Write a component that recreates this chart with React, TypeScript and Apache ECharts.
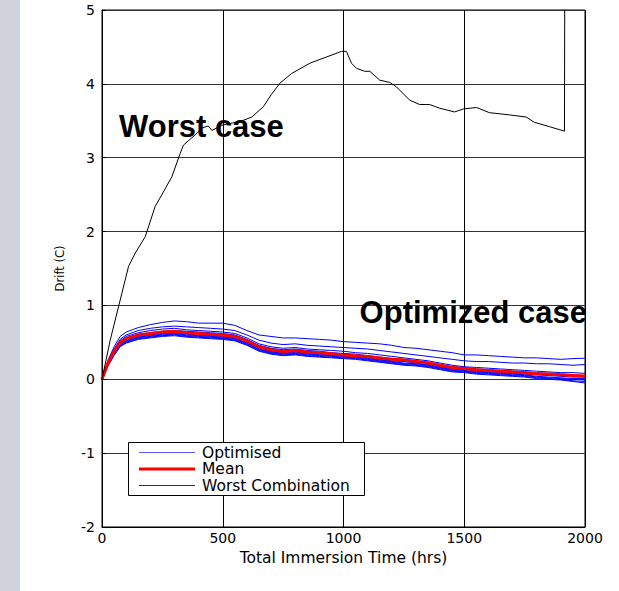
import React, { useEffect, useRef } from 'react';
import * as echarts from 'echarts';

// Time axis (hours) shared by the optimised runs and the mean
const TIME = [0, 25, 50, 75, 100, 150, 200, 250, 300, 350, 400, 450, 500, 550, 600, 650, 700, 750, 800, 850, 900, 950, 1000, 1050, 1100, 1150, 1200, 1250, 1300, 1350, 1400, 1450, 1500, 1550, 1600, 1650, 1700, 1750, 1800, 1850, 1900, 1950, 2000];

const MEAN = [0, 0.22, 0.38, 0.50, 0.55, 0.60, 0.62, 0.64, 0.65, 0.63, 0.62, 0.61, 0.60, 0.58, 0.52, 0.44, 0.40, 0.375, 0.39, 0.37, 0.36, 0.345, 0.33, 0.32, 0.31, 0.29, 0.27, 0.26, 0.24, 0.22, 0.19, 0.16, 0.145, 0.13, 0.12, 0.11, 0.10, 0.09, 0.075, 0.07, 0.06, 0.05, 0.045];

const OPT_1 = [0, 0.26, 0.44, 0.58, 0.64, 0.70, 0.74, 0.77, 0.79, 0.78, 0.76, 0.76, 0.76, 0.73, 0.66, 0.60, 0.58, 0.56, 0.56, 0.55, 0.54, 0.53, 0.51, 0.50, 0.49, 0.48, 0.46, 0.43, 0.42, 0.40, 0.38, 0.36, 0.33, 0.33, 0.32, 0.31, 0.30, 0.29, 0.29, 0.28, 0.27, 0.28, 0.285];
const OPT_2 = [0, 0.24, 0.41, 0.54, 0.60, 0.66, 0.69, 0.71, 0.72, 0.71, 0.70, 0.69, 0.68, 0.66, 0.60, 0.53, 0.49, 0.47, 0.48, 0.46, 0.45, 0.44, 0.43, 0.42, 0.41, 0.39, 0.37, 0.35, 0.33, 0.31, 0.29, 0.27, 0.25, 0.24, 0.24, 0.23, 0.22, 0.22, 0.21, 0.21, 0.20, 0.19, 0.20];
const OPT_3 = [0, 0.23, 0.40, 0.52, 0.58, 0.63, 0.66, 0.68, 0.69, 0.67, 0.66, 0.65, 0.64, 0.62, 0.56, 0.48, 0.44, 0.42, 0.43, 0.41, 0.40, 0.39, 0.38, 0.36, 0.35, 0.33, 0.31, 0.29, 0.27, 0.25, 0.22, 0.19, 0.17, 0.16, 0.15, 0.14, 0.13, 0.12, 0.11, 0.10, 0.09, 0.09, 0.08];
const OPT_4 = [0, 0.21, 0.36, 0.48, 0.53, 0.58, 0.60, 0.62, 0.63, 0.61, 0.60, 0.59, 0.58, 0.56, 0.50, 0.42, 0.38, 0.36, 0.37, 0.35, 0.34, 0.33, 0.32, 0.31, 0.29, 0.27, 0.25, 0.24, 0.22, 0.20, 0.17, 0.14, 0.13, 0.11, 0.10, 0.09, 0.08, 0.07, 0.06, 0.05, 0.04, 0.03, 0.03];
const OPT_5 = [0, 0.20, 0.35, 0.47, 0.52, 0.57, 0.59, 0.61, 0.62, 0.60, 0.59, 0.58, 0.57, 0.55, 0.49, 0.41, 0.37, 0.35, 0.36, 0.34, 0.33, 0.32, 0.31, 0.30, 0.28, 0.26, 0.24, 0.22, 0.21, 0.19, 0.16, 0.13, 0.12, 0.10, 0.09, 0.08, 0.07, 0.06, 0.04, 0.03, 0.02, 0.01, 0.01];
const OPT_6 = [0, 0.19, 0.34, 0.46, 0.51, 0.56, 0.58, 0.60, 0.61, 0.59, 0.58, 0.57, 0.56, 0.54, 0.48, 0.40, 0.36, 0.34, 0.35, 0.33, 0.32, 0.31, 0.30, 0.29, 0.27, 0.25, 0.23, 0.21, 0.20, 0.18, 0.15, 0.12, 0.11, 0.09, 0.08, 0.07, 0.06, 0.05, 0.03, 0.02, 0.01, 0.00, -0.01];
const OPT_7 = [0, 0.20, 0.34, 0.45, 0.50, 0.55, 0.57, 0.59, 0.60, 0.58, 0.57, 0.56, 0.55, 0.53, 0.47, 0.39, 0.35, 0.33, 0.34, 0.32, 0.31, 0.30, 0.29, 0.28, 0.26, 0.24, 0.22, 0.20, 0.19, 0.17, 0.14, 0.11, 0.10, 0.08, 0.07, 0.06, 0.05, 0.04, 0.02, 0.01, 0.00, -0.02, -0.03];
const OPT_8 = [0, 0.18, 0.32, 0.44, 0.49, 0.54, 0.56, 0.58, 0.59, 0.57, 0.56, 0.55, 0.54, 0.52, 0.46, 0.38, 0.34, 0.32, 0.33, 0.31, 0.30, 0.29, 0.28, 0.27, 0.25, 0.23, 0.21, 0.19, 0.18, 0.16, 0.13, 0.10, 0.09, 0.07, 0.06, 0.05, 0.04, 0.03, 0.01, 0.00, -0.01, -0.03, -0.05];
const OPT_9 = [0, 0.22, 0.39, 0.51, 0.56, 0.61, 0.63, 0.65, 0.66, 0.65, 0.64, 0.63, 0.62, 0.60, 0.54, 0.46, 0.42, 0.40, 0.41, 0.39, 0.38, 0.36, 0.35, 0.34, 0.32, 0.30, 0.28, 0.27, 0.25, 0.23, 0.20, 0.17, 0.16, 0.14, 0.13, 0.12, 0.11, 0.10, 0.09, 0.08, 0.07, 0.06, 0.05];

const OPTIMISED_RUNS = [OPT_1, OPT_2, OPT_3, OPT_4, OPT_5, OPT_6, OPT_7, OPT_8, OPT_9];

// Worst combination curve
const WORST_TIME = [0, 34, 69, 110, 138, 179, 220, 248, 289, 324, 337, 386, 413, 440, 455, 480, 496, 540, 580, 620, 668, 700, 737, 785, 861, 943, 992, 1012, 1033, 1054, 1088, 1109, 1150, 1191, 1219, 1274, 1315, 1357, 1398, 1460, 1497, 1551, 1604, 1687, 1757, 1790, 1853, 1915, 1916];
const WORST = [0, 0.53, 0.99, 1.53, 1.71, 1.93, 2.34, 2.50, 2.74, 3.06, 3.17, 3.31, 3.40, 3.43, 3.37, 3.41, 3.44, 3.47, 3.50, 3.55, 3.69, 3.85, 4.01, 4.14, 4.28, 4.38, 4.44, 4.44, 4.28, 4.21, 4.17, 4.17, 4.05, 4.02, 3.96, 3.78, 3.72, 3.72, 3.67, 3.62, 3.66, 3.68, 3.61, 3.58, 3.55, 3.48, 3.42, 3.36, 5.0];

const X_MIN = 0, X_MAX = 2000, X_STEP = 500;
const Y_MIN = -2, Y_MAX = 5, Y_STEP = 1;
const LEGEND_NAMES = ['Optimised', 'Mean', 'Worst Combination'];

const FONT = '"DejaVu Sans", "Liberation Sans", sans-serif';
const BOLD_FONT = 'bold 31px "Liberation Sans", Arial, sans-serif';
const LEGEND_FONT = '15.5px "DejaVu Sans", "Liberation Sans", sans-serif';

export default function App() {
  const ref = useRef<HTMLDivElement>(null);

  useEffect(() => {
    if (!ref.current) return;
    const chart = echarts.init(ref.current, null, { renderer: 'svg' });

    const blueSeries = OPTIMISED_RUNS.map((run) => ({
      type: 'line',
      name: LEGEND_NAMES[0],
      data: TIME.map((t, i) => [t, run[i]]),
      symbol: 'none',
      silent: true,
      lineStyle: { color: '#0000ff', width: 1 },
      itemStyle: { color: '#0000ff' },
      z: 2,
    }));

    // Legend box drawn as graphic (line samples with the series' styles)
    const legendRows = [
      { name: LEGEND_NAMES[0], color: '#5a5aff', width: 1.2, y: 452.5 },
      { name: LEGEND_NAMES[1], color: '#ff0000', width: 3, y: 469 },
      { name: LEGEND_NAMES[2], color: '#333333', width: 1.2, y: 485.5 },
    ];
    const legendGraphic: any[] = [
      {
        type: 'rect',
        z: 100,
        shape: { x: 128.5, y: 442.5, width: 236, height: 53 },
        style: { fill: '#fff', stroke: '#000', lineWidth: 1 },
        silent: true,
      },
    ];
    legendRows.forEach((r) => {
      legendGraphic.push({
        type: 'line',
        z: 101,
        shape: { x1: 139, y1: r.y, x2: 195, y2: r.y },
        style: { stroke: r.color, lineWidth: r.width },
        silent: true,
      });
      legendGraphic.push({
        type: 'text',
        z: 101,
        x: 202,
        y: r.y,
        style: { text: r.name, font: LEGEND_FONT, fill: '#000', align: 'left', verticalAlign: 'middle' },
        silent: true,
      });
    });

    const option = {
      animation: false,
      backgroundColor: '#ffffff',
      graphic: [
        {
          type: 'rect',
          shape: { x: 0, y: 0, width: 20, height: 591 },
          style: { fill: '#d1d3dc' },
          silent: true,
        },
        {
          type: 'text',
          x: 119,
          y: 126,
          z: 100,
          style: { text: 'Worst case', font: BOLD_FONT, fill: '#000', align: 'left', verticalAlign: 'middle' },
        },
        {
          type: 'text',
          x: 587,
          y: 312,
          z: 100,
          style: { text: 'Optimized case', font: BOLD_FONT, fill: '#000', align: 'right', verticalAlign: 'middle' },
        },
        ...legendGraphic,
      ],
      grid: {
        left: 102,
        top: 10,
        width: 483,
        height: 517,
        show: true,
        borderColor: '#000',
        borderWidth: 1,
        backgroundColor: '#fff',
        containLabel: false,
      },
      xAxis: {
        type: 'value',
        min: X_MIN,
        max: X_MAX,
        interval: X_STEP,
        name: 'Total Immersion Time (hrs)',
        nameLocation: 'middle',
        nameGap: 16,
        nameTextStyle: { fontFamily: FONT, fontSize: 15.5, color: '#000' },
        axisLine: { show: true, onZero: false, lineStyle: { color: '#000', width: 1 } },
        axisTick: { show: true, inside: true, length: 4, lineStyle: { color: '#000' } },
        axisLabel: { fontFamily: FONT, fontSize: 14, color: '#000', margin: 4, formatter: (v: number) => String(v) },
        splitLine: { show: true, lineStyle: { color: '#000', width: 1 } },
      },
      yAxis: {
        type: 'value',
        min: Y_MIN,
        max: Y_MAX,
        interval: Y_STEP,
        name: 'Drift (C)',
        nameLocation: 'middle',
        nameGap: 36,
        nameTextStyle: { fontFamily: FONT, fontSize: 11.5, color: '#000' },
        axisLine: { show: true, onZero: false, lineStyle: { color: '#000', width: 1 } },
        axisTick: { show: true, inside: true, length: 4, lineStyle: { color: '#000' } },
        axisLabel: { fontFamily: FONT, fontSize: 14, color: '#000', margin: 7, formatter: (v: number) => String(v) },
        splitLine: { show: true, lineStyle: { color: '#333', width: 1 } },
      },
      series: [
        ...blueSeries,
        {
          type: 'line',
          name: LEGEND_NAMES[1],
          data: TIME.map((t, i) => [t, MEAN[i]]),
          symbol: 'none',
          silent: true,
          lineStyle: { color: '#ff0000', width: 3 },
          itemStyle: { color: '#ff0000' },
          z: 3,
        },
        {
          type: 'line',
          name: LEGEND_NAMES[2],
          data: WORST_TIME.map((t, i) => [t, WORST[i]]),
          symbol: 'none',
          silent: true,
          lineStyle: { color: '#000000', width: 1 },
          itemStyle: { color: '#000000' },
          z: 4,
        },
      ],
    };

    chart.setOption(option as any);
    return () => chart.dispose();
  }, []);

  return (
    <div
      ref={ref}
      style={{ position: 'absolute', left: 0, top: 0, width: 619, height: 591, background: '#fff' }}
    />
  );
}
